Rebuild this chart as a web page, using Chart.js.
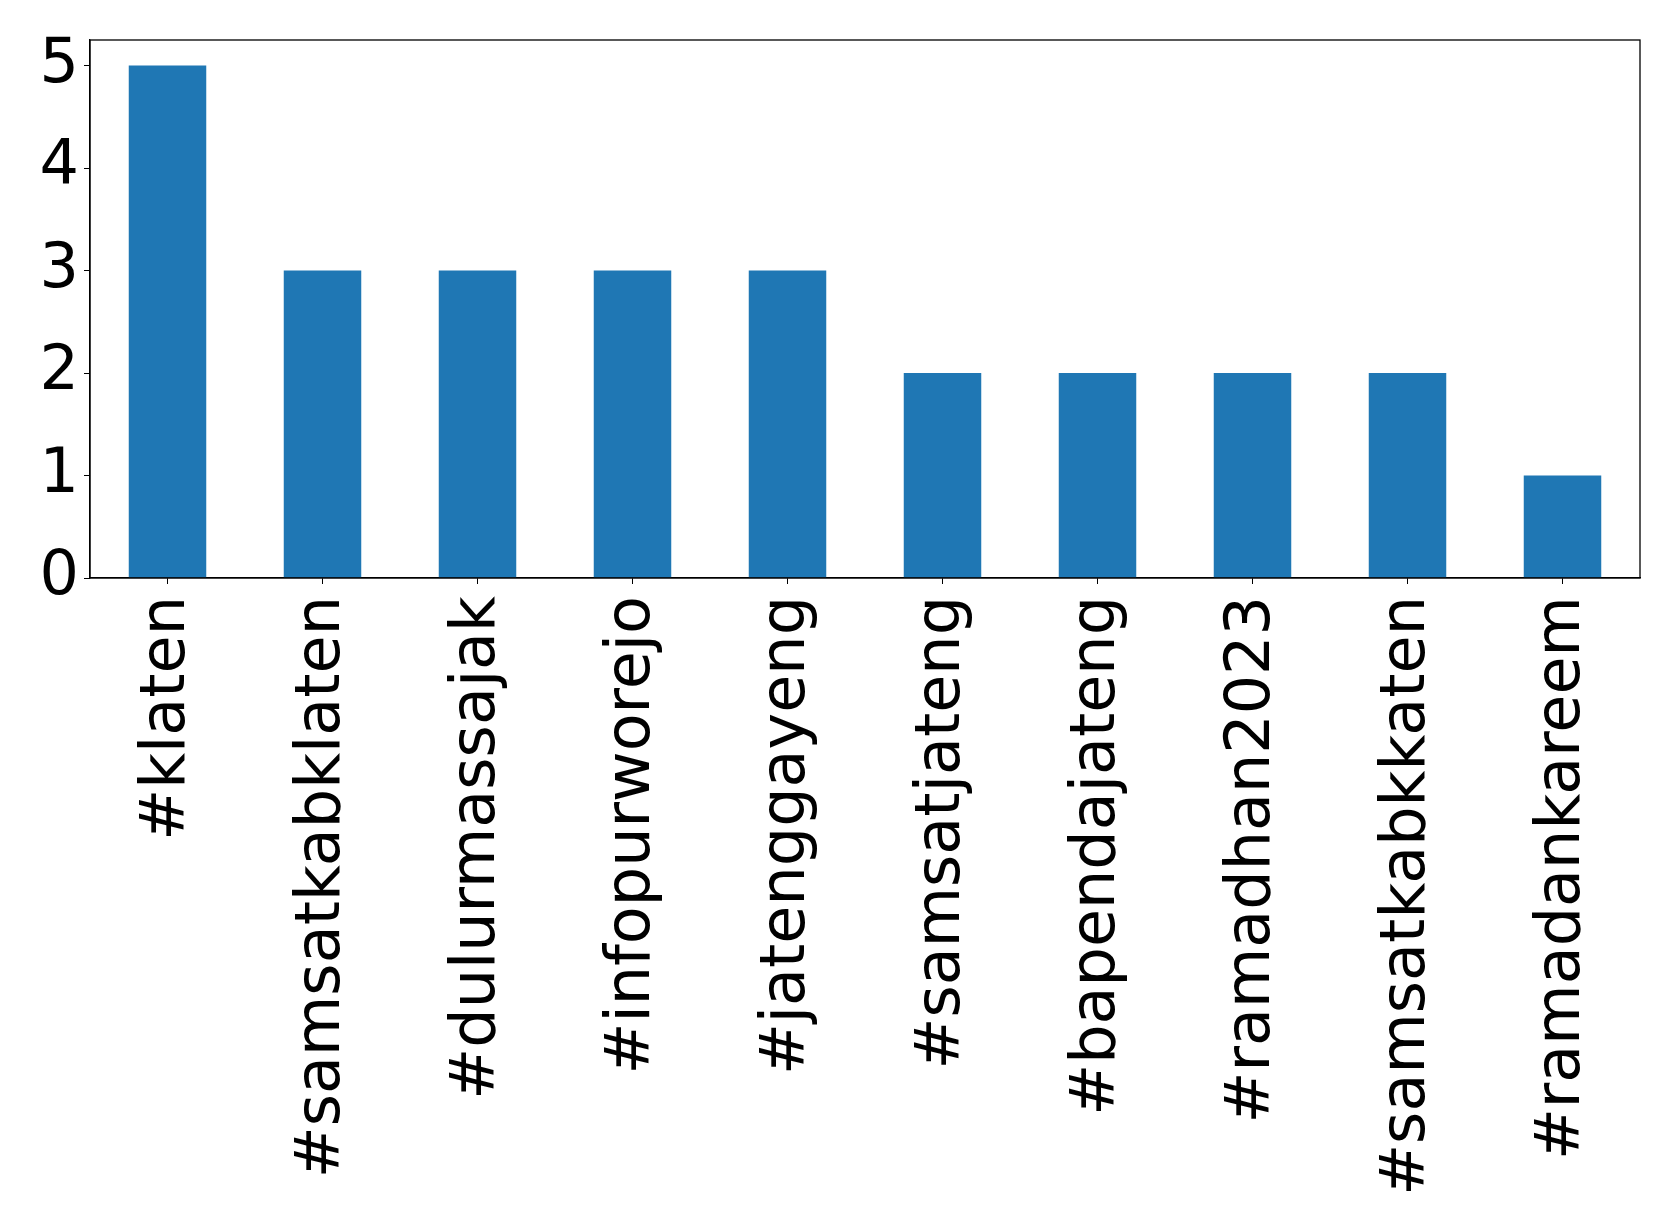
<!DOCTYPE html>
<html>
<head>
<meta charset="utf-8">
<script src="https://cdn.jsdelivr.net/npm/chart.js@4"></script>
<style>
  html, body { margin: 0; padding: 0; background: #fff; }
  #wrap { width: 1679px; height: 1232px; }
</style>
</head>
<body>
<div id="wrap"><canvas id="chart" width="1679" height="1232"></canvas></div>
<script>
const hashtags = ['#klaten', '#samsatkabklaten', '#dulurmassajak', '#infopurworejo', '#jatenggayeng',
                  '#samsatjateng', '#bapendajateng', '#ramadhan2023', '#samsatkabkkaten', '#ramadankareem'];
const counts = [5, 3, 3, 3, 3, 2, 2, 2, 2, 1];
const yTicks = [0, 1, 2, 3, 4, 5];

const FONT = "'DejaVu Sans', sans-serif";

// full frame around the plot area (matplotlib style)
const frame = {
    id: 'frame',
    afterDraw(chart) {
        const a = chart.chartArea, ctx = chart.ctx;
        ctx.save();
        ctx.strokeStyle = '#000';
        ctx.lineWidth = 1.3;
        ctx.strokeRect(a.left, a.top, a.right - a.left, a.bottom - a.top);
        ctx.restore();
    }
};

new Chart(document.getElementById('chart'), {
    type: 'bar',
    data: {
        labels: hashtags,
        datasets: [{
            data: counts,
            backgroundColor: '#1f77b4',
            barPercentage: 0.5,
            categoryPercentage: 1.0,
        }],
    },
    options: {
        responsive: false,
        animation: false,
        layout: { padding: { top: 40, right: 39, left: 0, bottom: 0 } },
        plugins: { legend: { display: false }, tooltip: { enabled: false } },
        scales: {
            x: {
                grid: { display: true, drawOnChartArea: false, offset: false, tickLength: 6, color: '#000' },
                border: { color: '#000', width: 1.3 },
                ticks: {
                    color: '#000', font: { family: FONT, size: 62 },
                    maxRotation: 90, minRotation: 90, padding: 12, autoSkip: false,
                },
                afterFit(scale) {
                    scale.height = 654;
                    scale.paddingLeft = 0; scale.paddingRight = 0;
                },
            },
            y: {
                min: 0, max: 5.25,
                afterBuildTicks(scale) { scale.ticks = yTicks.map(v => ({ value: v })); },
                grid: { display: true, drawOnChartArea: false, tickLength: 6, color: '#000' },
                border: { color: '#000', width: 1.3 },
                ticks: { color: '#000', font: { family: FONT, size: 62 }, padding: 5 },
                afterFit(scale) {
                    scale.width = 90;
                    scale.paddingTop = 0; scale.paddingBottom = 0;
                },
            },
        },
    },
    plugins: [frame],
});
</script>
</body>
</html>
